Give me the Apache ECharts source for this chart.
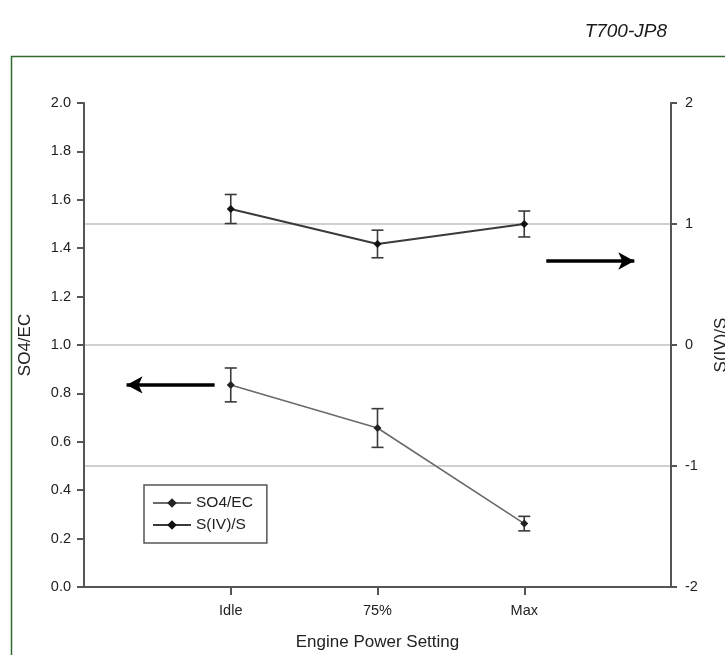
<!DOCTYPE html>
<html>
<head>
<meta charset="utf-8">
<script src="https://cdn.jsdelivr.net/npm/echarts@6/dist/echarts.min.js"></script>
<style>html,body{margin:0;padding:0;background:#fff;}#c{width:725px;height:655px;}</style>
</head>
<body>
<div id="c"></div>
<script>
var categories = ['Idle', '75%', 'Max'];
var so4ec = [0.835, 0.657, 0.262];
var so4ecErr = [0.07, 0.08, 0.03];
var sivs = [1.124, 0.835, 1.0];
var sivsErr = [0.12, 0.114, 0.107];
var leftTicks = [0, 2, 0.2];
var rightTicks = [-2, 2, 1];

var FONT = '"Liberation Sans", Arial, sans-serif';
function pts(vals) { return vals.map(function (v, i) { return [i + 1, v]; }); }
function errs(vals, e) { return vals.map(function (v, i) { return [i + 1, v - e[i], v + e[i]]; }); }
function errRender(params, api) {
  var x = api.value(0), lo = api.coord([x, api.value(1)]), hi = api.coord([x, api.value(2)]);
  var w = 6, st = { stroke: '#3a3a3a', lineWidth: 1.6 };
  return { type: 'group', children: [
    { type: 'line', shape: { x1: lo[0], y1: lo[1], x2: hi[0], y2: hi[1] }, style: st },
    { type: 'line', shape: { x1: lo[0] - w, y1: lo[1], x2: lo[0] + w, y2: lo[1] }, style: st },
    { type: 'line', shape: { x1: hi[0] - w, y1: hi[1], x2: hi[0] + w, y2: hi[1] }, style: st }
  ]};
}

var chart = echarts.init(document.getElementById('c'), null, { renderer: 'canvas' });
chart.setOption({
  animation: false,
  textStyle: { fontFamily: FONT },
  graphic: [
    { type: 'rect', shape: { x: 11.5, y: 56.5, width: 900, height: 800 }, style: { fill: 'none', stroke: '#2f6a2f', lineWidth: 1.5 }, silent: true, z: -1 },
    { type: 'text', right: 58, top: 22, style: { text: 'T700-JP8', fontFamily: FONT, fontSize: 19, fontStyle: 'italic', fill: '#1a1a1a' } }
  ],
  grid: { left: 84, right: 54, top: 103, bottom: 68, outerBoundsMode: 'none', containLabel: false },
  legend: {
    orient: 'vertical', left: 144, top: 485,
    padding: [10, 14, 10, 8], itemGap: 6, itemWidth: 38, itemHeight: 12,
    borderColor: '#555', borderWidth: 1.5,
    textStyle: { fontFamily: FONT, fontSize: 15.5, color: '#222' },
    data: ['SO4/EC', 'S(IV)/S']
  },
  xAxis: {
    type: 'value', min: 0, max: 4, interval: 1,
    name: 'Engine Power Setting', nameLocation: 'middle', nameGap: 47,
    nameTextStyle: { fontFamily: FONT, fontSize: 17, color: '#222' },
    axisLine: { lineStyle: { color: '#555', width: 2 } },
    axisTick: { customValues: [1, 2, 3], length: 8, lineStyle: { color: '#555', width: 2 } },
    axisLabel: { customValues: [1, 2, 3], margin: 16, fontSize: 14.5, color: '#222',
      formatter: function (v) { return categories[Math.round(v) - 1] || ''; } },
    splitLine: { show: false }
  },
  yAxis: [
    {
      type: 'value', position: 'left', min: leftTicks[0], max: leftTicks[1], interval: leftTicks[2],
      name: 'SO4/EC', nameLocation: 'middle', nameGap: 50, nameRotate: 90,
      nameTextStyle: { fontFamily: FONT, fontSize: 17, color: '#222' },
      axisLine: { show: true, lineStyle: { color: '#555', width: 2 } },
      axisTick: { show: true, length: 7, lineStyle: { color: '#555', width: 2 } },
      axisLabel: { margin: 13, fontSize: 14.5, color: '#222', formatter: function (v) { return v.toFixed(1); } },
      splitLine: { show: false }
    },
    {
      type: 'value', position: 'right', min: rightTicks[0], max: rightTicks[1], interval: rightTicks[2],
      name: 'S(IV)/S', nameLocation: 'middle', nameGap: 42, nameRotate: 90,
      nameTextStyle: { fontFamily: FONT, fontSize: 17, color: '#222' },
      axisLine: { show: true, lineStyle: { color: '#555', width: 2 } },
      axisTick: { show: true, length: 6, lineStyle: { color: '#555', width: 2 } },
      axisLabel: { margin: 14, fontSize: 14.5, color: '#222' },
      splitLine: { show: true, showMaxLine: false, showMinLine: false, lineStyle: { color: '#d0d0d0', width: 2 } }
    }
  ],
  series: [
    {
      name: 'SO4/EC', type: 'line', yAxisIndex: 0, data: pts(so4ec),
      symbol: 'diamond', symbolSize: 8, z: 3,
      lineStyle: { color: '#6a6a6a', width: 1.6 }, itemStyle: { color: '#222' },
      markLine: {
        silent: true, symbol: ['arrow', 'none'], symbolSize: [13, 16], label: { show: false },
        lineStyle: { color: '#000', width: 3.5, type: 'solid' },
        data: [[{ coord: [0.29, so4ec[0]] }, { coord: [0.89, so4ec[0]] }]]
      }
    },
    {
      name: 'S(IV)/S', type: 'line', yAxisIndex: 1, data: pts(sivs),
      symbol: 'diamond', symbolSize: 8, z: 3,
      lineStyle: { color: '#3a3a3a', width: 2 }, itemStyle: { color: '#111' },
      markLine: {
        silent: true, symbol: ['none', 'arrow'], symbolSize: [13, 16], label: { show: false },
        lineStyle: { color: '#000', width: 3.5, type: 'solid' },
        data: [[{ coord: [3.15, 0.694] }, { coord: [3.75, 0.694] }]]
      }
    },
    { type: 'custom', yAxisIndex: 0, data: errs(so4ec, so4ecErr), renderItem: errRender, z: 2, silent: true },
    { type: 'custom', yAxisIndex: 1, data: errs(sivs, sivsErr), renderItem: errRender, z: 2, silent: true }
  ]
});
</script>
</body>
</html>
